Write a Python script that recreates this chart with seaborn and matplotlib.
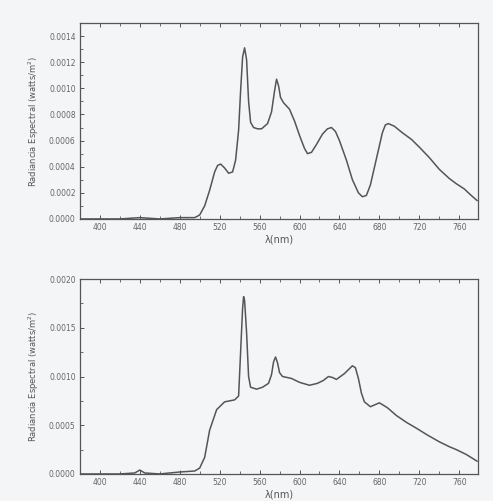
import numpy as np
import pandas as pd
import matplotlib
matplotlib.use("Agg")
import matplotlib.pyplot as plt
import seaborn as sns
from matplotlib.ticker import MultipleLocator, FormatStrFormatter

# --- spectrum 1 (top panel) ---
wl_top = [380, 400, 420, 440, 460, 480, 495, 500, 505, 510, 515, 518, 521, 525, 529, 533, 536,
          539, 541, 543, 545, 547, 549, 551, 554, 558, 562, 568, 572, 575, 577, 579, 581, 584,
          590, 595, 600, 605, 608, 612, 617, 623, 628, 632, 636, 640, 647, 653, 659, 663, 667,
          671, 677, 683, 686, 689, 695, 703, 712, 720, 730, 740, 750, 757, 765, 772, 778]
rad_top = [0.0, 0.0, 0.0, 0.00001, 0.0, 0.00001, 0.00001, 0.00003, 0.00010, 0.00022, 0.00036,
           0.00041, 0.00042, 0.00039, 0.00035, 0.00036, 0.00045, 0.00068, 0.00098, 0.00124,
           0.00131, 0.00122, 0.00090, 0.00074, 0.00070, 0.00069, 0.00069, 0.00073, 0.00082,
           0.00098, 0.00107, 0.00102, 0.00093, 0.00089, 0.00084, 0.00075, 0.00064, 0.00054,
           0.00050, 0.00051, 0.00057, 0.00065, 0.00069, 0.00070, 0.00067, 0.00060, 0.00045,
           0.00030, 0.00020, 0.00017, 0.00018, 0.00026, 0.00046, 0.00066, 0.00072, 0.00073,
           0.00071, 0.00066, 0.00061, 0.00055, 0.00047, 0.00038, 0.00031, 0.00027, 0.00023,
           0.00018, 0.00014]

# --- spectrum 2 (bottom panel) ---
wl_bot = [380, 400, 420, 435, 440, 445, 460, 480, 495, 500, 505, 510, 517, 525, 535, 539,
          541, 543, 544, 545, 547, 549, 551, 557, 563, 569, 572, 574, 576, 578, 580, 583, 592,
          600, 610, 618, 624, 629, 633, 637, 645, 650, 653, 656, 659, 662, 665, 671, 680, 688,
          697, 707, 717, 728, 740, 750, 757, 767, 778]
rad_bot = [0.0, 0.0, 0.0, 0.00001, 0.00004, 0.00001, 0.0, 0.00002, 0.00003, 0.00006, 0.00017,
           0.00045, 0.00066, 0.00074, 0.00076, 0.00080, 0.00125, 0.00170, 0.00182, 0.00178,
           0.00145, 0.00100, 0.00089, 0.00087, 0.00089, 0.00093, 0.00102, 0.00115, 0.00120,
           0.00114, 0.00104, 0.00100, 0.00098, 0.00094, 0.00091, 0.00093, 0.00096, 0.00100,
           0.00099, 0.00097, 0.00103, 0.00108, 0.00111, 0.00109, 0.00098, 0.00083, 0.00074,
           0.00069, 0.00073, 0.00068, 0.00060, 0.00053, 0.00047, 0.00040, 0.00033, 0.00028,
           0.00025, 0.00020, 0.00013]

ylabel = "Radiancia Espectral (watts/m$^2$)"
xlabel = "λ(nm)"

sns.set_theme(style="ticks")
plt.rcParams['font.family'] = ['DejaVu Sans']

bg = "#f3f5f7"
ink = "#555555"

fig = plt.figure(figsize=(4.93, 5.01), dpi=100, facecolor=bg)
ax1 = fig.add_axes([0.162, 0.563, 0.808, 0.391])
ax2 = fig.add_axes([0.162, 0.054, 0.808, 0.389])

panels = [
    (ax1, wl_top, rad_top, 0.0015, 0.0002, 0.0001, "%.4f"),
    (ax2, wl_bot, rad_bot, 0.0020, 0.0005, 0.00025, "%.4f"),
]

for ax, wl, rad, ymax, ymaj, ymin, fmt in panels:
    df = pd.DataFrame({"wl": wl, "rad": rad})
    ax.set_facecolor(bg)
    sns.lineplot(data=df, x="wl", y="rad", ax=ax, color=ink, linewidth=1.1)
    ax.set_xlim(380, 779)
    ax.set_ylim(0, ymax)
    ax.xaxis.set_major_locator(MultipleLocator(40))
    ax.xaxis.set_minor_locator(MultipleLocator(20))
    ax.yaxis.set_major_locator(MultipleLocator(ymaj))
    ax.yaxis.set_minor_locator(MultipleLocator(ymin))
    ax.yaxis.set_major_formatter(FormatStrFormatter(fmt))
    ax.tick_params(axis="both", which="major", direction="in", length=3, width=0.7,
                   colors=ink, labelsize=5.5, labelcolor="#666666", top=True, pad=3)
    ax.tick_params(axis="both", which="minor", direction="in", length=2, width=0.6,
                   colors=ink, top=True)
    for s in ax.spines.values():
        s.set_color(ink)
        s.set_linewidth(0.9)
    ax.set_xlabel(xlabel, fontsize=7, color="#555555", labelpad=2)
    ax.set_ylabel(ylabel, fontsize=6, color="#555555", labelpad=6)

fig.savefig("out.png", dpi=100, facecolor=bg)
